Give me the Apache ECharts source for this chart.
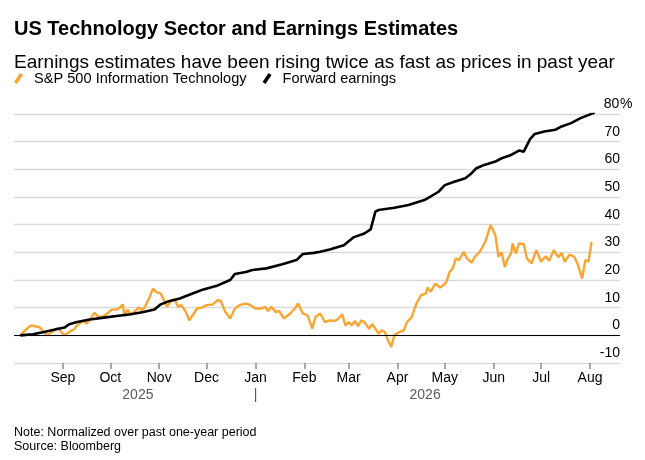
<!DOCTYPE html>
<html>
<head>
<meta charset="utf-8">
<script src="https://cdn.jsdelivr.net/npm/echarts@6/dist/echarts.min.js"></script>
<style>
  html, body { margin: 0; padding: 0; background: #fff; }
  #chart { width: 645px; height: 460px; }
</style>
</head>
<body>
<div id="chart"></div>
<script>
// S&P 500 信息技术板块（橙线）
var techDates = [
	'2025-08-05','2025-08-08','2025-08-10','2025-08-12','2025-08-14','2025-08-17','2025-08-19','2025-08-22','2025-08-24','2025-08-26','2025-08-29','2025-08-31',
	'2025-09-02','2025-09-04','2025-09-06','2025-09-08','2025-09-10','2025-09-12','2025-09-14','2025-09-16','2025-09-18','2025-09-21','2025-09-23','2025-09-26','2025-09-29',
	'2025-10-02','2025-10-05','2025-10-07','2025-10-09','2025-10-10','2025-10-12','2025-10-14','2025-10-16','2025-10-19','2025-10-21','2025-10-23','2025-10-26','2025-10-28','2025-10-30',
	'2025-11-02','2025-11-04','2025-11-06','2025-11-09','2025-11-11','2025-11-13','2025-11-15','2025-11-18','2025-11-20','2025-11-23','2025-11-25','2025-11-28',
	'2025-12-01','2025-12-05','2025-12-08','2025-12-10','2025-12-13','2025-12-16','2025-12-19','2025-12-22','2025-12-26','2025-12-29',
	'2026-01-01','2026-01-05','2026-01-07','2026-01-09','2026-01-11','2026-01-14','2026-01-16','2026-01-19','2026-01-23','2026-01-26','2026-01-28','2026-01-31',
	'2026-02-03','2026-02-06','2026-02-08','2026-02-11','2026-02-14','2026-02-17','2026-02-20','2026-02-22','2026-02-25','2026-02-27',
	'2026-03-01','2026-03-03','2026-03-05','2026-03-07','2026-03-09','2026-03-11','2026-03-14','2026-03-16','2026-03-18','2026-03-20','2026-03-22','2026-03-24','2026-03-26','2026-03-28','2026-03-30',
	'2026-04-02','2026-04-05','2026-04-07','2026-04-10','2026-04-13','2026-04-16','2026-04-19','2026-04-20','2026-04-22','2026-04-25','2026-04-28','2026-04-30',
	'2026-05-02','2026-05-04','2026-05-06','2026-05-08','2026-05-10','2026-05-13','2026-05-15','2026-05-18','2026-05-20','2026-05-23','2026-05-25','2026-05-27','2026-05-30',
	'2026-06-02','2026-06-04','2026-06-06','2026-06-08','2026-06-10','2026-06-12','2026-06-13','2026-06-15','2026-06-17','2026-06-20','2026-06-22','2026-06-25','2026-06-28',
	'2026-07-01','2026-07-04','2026-07-06','2026-07-09','2026-07-12','2026-07-14','2026-07-16','2026-07-19','2026-07-22','2026-07-24','2026-07-27','2026-07-29','2026-07-31',
	'2026-08-02'
];
var techValues = [
	0, 1.8, 2.8, 3.6, 3.3, 3.0, 1.8, 0, 0.8, 1.6, 2.6, 1.2,
	0, 0.8, 1.6, 2.1, 3.6, 4.5, 5.2, 4.2, 5.7, 8.2, 6.9, 6.6, 7.9,
	9.3, 9.3, 10.0, 11.2, 6.9, 9.3, 7.5, 8.4, 10.0, 9.1, 10.3, 13.9, 16.9, 15.7,
	15.1, 12.7, 10.3, 12.9, 12.7, 10.3, 10.9, 8.4, 5.4, 7.9, 9.7, 10.0,
	10.9, 11.2, 12.7, 12.4, 8.4, 6.1, 9.7, 10.9, 11.5, 10.9,
	9.7, 9.7, 10.3, 8.8, 10.3, 8.4, 8.8, 6.1, 7.9, 9.7, 11.5, 7.9,
	7.2, 2.4, 6.6, 7.9, 4.8, 5.4, 5.2, 5.7, 7.6, 3.6,
	4.8, 3.6, 5.2, 3.3, 5.4, 4.8, 2.4, 4.0, 2.4, 0.6, 1.8, 1.2, -1.8, -4.2, 0,
	1.2, 1.8, 4.8, 6.6, 11.5, 14.5, 15.1, 17.3, 15.7, 18.7, 17.3, 18.1,
	19.3, 22.9, 24.2, 27.8, 27.2, 30.2, 27.8, 26.3, 28.4, 30.2, 32.0, 34.4, 39.9,
	36.2, 28.4, 30.0, 24.7, 27.8, 29.6, 33.2, 29.6, 33.2, 33.0, 27.8, 26.0, 30.8,
	26.6, 28.6, 26.9, 30.8, 28.2, 29.8, 26.6, 29.2, 28.4, 26.0, 20.5, 27.2, 26.6,
	33.8
];

// 远期盈利（黑线）
var earnDates = [
	'2025-08-05','2025-08-13','2025-08-20','2025-08-27',
	'2025-09-02','2025-09-05','2025-09-10','2025-09-18','2025-09-27',
	'2025-10-05','2025-10-14','2025-10-22','2025-10-29',
	'2025-11-02','2025-11-06','2025-11-14','2025-11-23','2025-11-29',
	'2025-12-07','2025-12-16','2025-12-19','2025-12-26','2025-12-30',
	'2026-01-08','2026-01-18','2026-01-27','2026-01-31',
	'2026-02-07','2026-02-11','2026-02-17','2026-02-26',
	'2026-03-04','2026-03-11','2026-03-15','2026-03-18','2026-03-20','2026-03-30',
	'2026-04-08','2026-04-18','2026-04-20','2026-04-27',
	'2026-05-01','2026-05-07','2026-05-14','2026-05-18','2026-05-21','2026-05-26',
	'2026-06-02','2026-06-06','2026-06-12','2026-06-17','2026-06-20','2026-06-24','2026-06-27',
	'2026-07-03','2026-07-10','2026-07-14','2026-07-20','2026-07-26',
	'2026-08-04'
];
var earnValues = [
	0, 0.4, 1.2, 2.1,
	2.8, 4.0, 4.8, 5.7, 6.4,
	7.0, 7.6, 8.4, 9.3,
	11.2, 12.1, 13.3, 15.3, 16.6,
	17.8, 20.0, 22.2, 22.9, 23.6,
	24.2, 25.7, 27.2, 29.4,
	29.8, 30.2, 31.0, 32.6,
	35.4, 36.8, 38.3, 44.7, 45.3, 46.1,
	47.1, 48.9, 49.5, 51.9,
	54.3, 55.5, 56.8, 58.6, 60.4, 61.6,
	62.8, 64.0, 65.2, 66.8, 66.4, 70.9, 72.8,
	73.7, 74.3, 75.5, 76.7, 78.5,
	80.5
];

// 坐标轴刻度
var monthTicks = ['2025-09-01','2025-10-01','2025-11-01','2025-12-01','2026-01-01','2026-02-01','2026-03-01','2026-04-01','2026-05-01','2026-06-01','2026-07-01','2026-08-01'];
var monthLabels = ['Sep','Oct','Nov','Dec','Jan','Feb','Mar','Apr','May','Jun','Jul','Aug'];
var yearLabels = ['2025', '2026'];
var yTicks = [-10, 0, 10, 20, 30, 40, 50, 60, 70, 80];

var axisMin = '2025-08-01';
var axisMax = '2026-08-20';

function toTime(s) {
	var p = s.split('-');
	return new Date(+p[0], +p[1] - 1, +p[2]).getTime();
}

var monthTimes = monthTicks.map(toTime);
var yearStart = toTime('2026-01-01');
var firstTime = Math.min(toTime(techDates[0]), toTime(earnDates[0]));
var lastTime = Math.max(toTime(techDates[techDates.length - 1]), toTime(earnDates[earnDates.length - 1]));
var mid2025 = Math.round((firstTime + yearStart) / 2);
var mid2026 = Math.round((yearStart + lastTime) / 2);

var FONT = '"Liberation Sans", Arial, Helvetica, sans-serif';
// 图例里的斜线小图标
var SLASH = 'path://M0,9 L6,0 L9,2 L3,11 Z';

var myChart = echarts.init(document.getElementById('chart'));

var option = {
	animation: false,
	backgroundColor: '#fff',
	textStyle: { fontFamily: FONT },
	title: [{
		text: 'US Technology Sector and Earnings Estimates',
		left: 14,
		top: 19,
		padding: 0,
		textStyle: { fontFamily: FONT, fontSize: 20, fontWeight: 'bold', color: '#000' }
	}, {
		text: 'Earnings estimates have been rising twice as fast as prices in past year',
		left: 14,
		top: 53,
		padding: 0,
		textStyle: { fontFamily: FONT, fontSize: 19, fontWeight: 'normal', color: '#000' }
	}, {
		text: 'Note: Normalized over past one-year period\nSource: Bloomberg',
		left: 14,
		top: 426,
		padding: 0,
		textStyle: { fontFamily: FONT, fontSize: 12.5, lineHeight: 14, fontWeight: 'normal', color: '#000' }
	}],
	legend: {
		left: 14,
		top: 71,
		padding: 0,
		itemWidth: 9,
		itemHeight: 11,
		itemGap: 16,
		selectedMode: false,
		textStyle: { fontFamily: FONT, fontSize: 14.6, color: '#000', padding: [0, 0, 0, 6] },
		data: [{
			name: 'S&P 500 Information Technology',
			icon: SLASH
		}, {
			name: 'Forward earnings',
			icon: SLASH
		}]
	},
	grid: { left: 14, right: 25, top: 114, bottom: 97, containLabel: false },
	xAxis: [{
		type: 'value',
		min: toTime(axisMin),
		max: toTime(axisMax),
		axisLine: { show: false, onZero: false },
		splitLine: { show: false },
		axisTick: {
			show: true,
			customValues: monthTimes,
			length: 6,
			lineStyle: { color: '#8c8c8c', width: 1.5 }
		},
		axisLabel: {
			customValues: monthTimes,
			margin: 8,
			fontFamily: FONT,
			fontSize: 14,
			color: '#000',
			formatter: function (value) {
				var i = monthTimes.indexOf(value);
				return i >= 0 ? monthLabels[i] : '';
			}
		}
	}, {
		type: 'value',
		min: toTime(axisMin),
		max: toTime(axisMax),
		position: 'bottom',
		offset: 17,
		axisLine: { show: false, onZero: false },
		splitLine: { show: false },
		axisTick: { show: false },
		axisLabel: {
			customValues: [mid2025, yearStart, mid2026],
			margin: 8,
			fontFamily: FONT,
			fontSize: 14,
			color: '#5a5a5a',
			formatter: function (value) {
				if (value === mid2025) return yearLabels[0];
				if (value === mid2026) return yearLabels[1];
				return '|';
			}
		}
	}],
	yAxis: {
		type: 'value',
		position: 'right',
		min: yTicks[0],
		max: yTicks[yTicks.length - 1],
		interval: 10,
		axisLine: { show: false },
		axisTick: { show: false },
		splitLine: { show: true, lineStyle: { color: '#dadada', width: 1.3 } },
		axisLabel: {
			inside: true,
			margin: 17,
			align: 'left',
			verticalAlign: 'bottom',
			padding: [0, 0, 3, 0],
			fontFamily: FONT,
			fontSize: 14,
			color: '#000',
			formatter: function (v) {
				return '{n|' + v + '}' + (v === yTicks[yTicks.length - 1] ? '{p|%}' : '');
			},
			rich: {
				n: { width: 17, align: 'right', fontFamily: FONT, fontSize: 14, color: '#000' },
				p: { fontFamily: FONT, fontSize: 14, color: '#000' }
			}
		}
	},
	series: [{
		name: 'S&P 500 Information Technology',
		type: 'line',
		xAxisIndex: 0,
		showSymbol: false,
		symbol: 'none',
		lineStyle: { color: '#f9a533', width: 2.4 },
		itemStyle: { color: '#f9a533' },
		data: techDates.map(function (d, i) { return [toTime(d), techValues[i]]; }),
		markLine: {
			silent: true,
			symbol: 'none',
			label: { show: false },
			lineStyle: { color: '#000', width: 1.2, type: 'solid' },
			data: [{ yAxis: 0 }]
		}
	}, {
		name: 'Forward earnings',
		type: 'line',
		xAxisIndex: 0,
		showSymbol: false,
		symbol: 'none',
		lineStyle: { color: '#000', width: 2.6 },
		itemStyle: { color: '#000' },
		data: earnDates.map(function (d, i) { return [toTime(d), earnValues[i]]; })
	}]
};

myChart.setOption(option);
</script>
</body>
</html>
